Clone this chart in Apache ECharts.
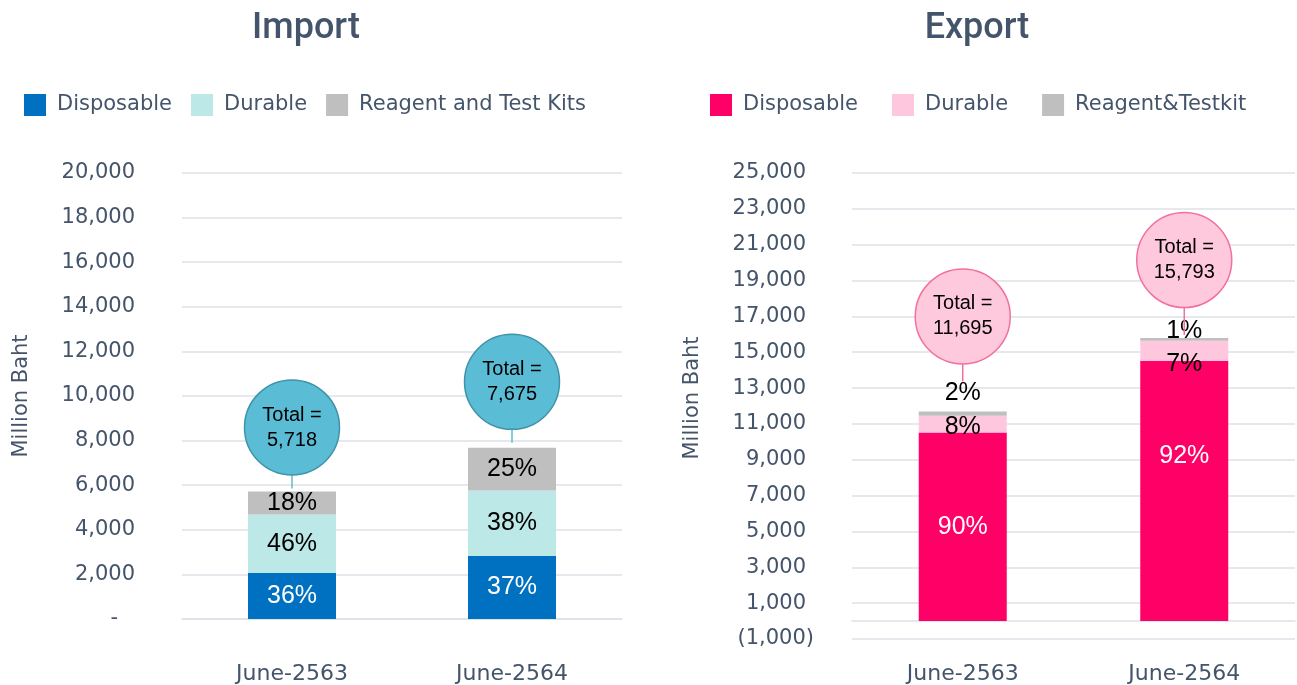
<!DOCTYPE html>
<html>
<head>
<meta charset="utf-8">
<script src="https://cdn.jsdelivr.net/npm/echarts@6/dist/echarts.min.js"></script>
<style>
  html, body { margin: 0; padding: 0; background: #fff; }
  #chart { width: 1297px; height: 685px; }
</style>
</head>
<body>
<div id="chart"></div>
<script>
const categories = ['June-2563', 'June-2564'];

// Import, million baht
const importDisposable = [2058, 2840];
const importDurable = [2630, 2917];
const importReagent = [1030, 1918];

// Export, million baht
const exportDisposable = [10526, 14530];
const exportDurable = [936, 1105];
const exportReagent = [233, 158];

const sum = (...arrs) => arrs[0].map((_, i) => arrs.reduce((s, a) => s + a[i], 0));
const importTotal = sum(importDisposable, importDurable, importReagent);
const exportTotal = sum(exportDisposable, exportDurable, exportReagent);

const fmt = n => Math.abs(n).toLocaleString('en-US');
const axisFont = 'DejaVu Sans';
const ink = '#44546a';
const gridColor = '#dde2e9';

const chart = echarts.init(document.getElementById('chart'));

function pctLabel(totals, color) {
  return {
    show: true,
    position: 'inside',
    color: color,
    fontFamily: 'Liberation Sans',
    fontSize: 25,
    formatter: p => Math.round(p.value / totals[p.dataIndex] * 100) + '%'
  };
}

function bars(name, values, idx, stack, color, totals, labelColor, tweaks) {
  return {
    name: name,
    type: 'bar',
    stack: stack,
    xAxisIndex: idx,
    yAxisIndex: idx,
    barWidth: 88,
    itemStyle: { color: color },
    label: pctLabel(totals, labelColor),
    data: values.map((v, i) => (tweaks && tweaks[i]) ? { value: v, label: tweaks[i] } : v)
  };
}

function bubbles(totals, idx, fill, stroke, line, lift, gap) {
  return {
    type: 'custom',
    xAxisIndex: idx,
    yAxisIndex: idx,
    silent: true,
    z: 10,
    data: totals.map((t, i) => [i, t]),
    renderItem: function (params, api) {
      const i = params.dataIndex;
      const top = api.coord([api.value(0), api.value(1)]);
      const r = 47.5;
      const cy = top[1] - lift[i];
      return {
        type: 'group',
        children: [
          { type: 'line', shape: { x1: top[0], y1: top[1] - gap[i], x2: top[0], y2: cy + r },
            style: { stroke: line, lineWidth: 1.5 } },
          { type: 'circle', shape: { cx: top[0], cy: cy, r: r },
            style: { fill: fill, stroke: stroke, lineWidth: 1.5 } },
          { type: 'text', style: {
              text: 'Total =\n' + fmt(api.value(1)),
              x: top[0], y: cy, align: 'center', verticalAlign: 'middle',
              fill: '#000', fontFamily: 'Liberation Sans', fontSize: 20, lineHeight: 25 } }
        ]
      };
    }
  };
}

function legend(names, left, gap) {
  return {
    data: names,
    left: left,
    top: 94,
    padding: 0,
    icon: 'rect',
    itemWidth: 22,
    itemHeight: 22,
    itemGap: gap,
    formatter: n => n.split(':')[1],
    textStyle: { fontFamily: axisFont, fontSize: 21, color: ink, padding: [0, 0, 0, 6] }
  };
}

function title(text, center) {
  return {
    text: text, left: center, top: 11, padding: 0, textAlign: 'center',
    textStyle: { fontFamily: 'Roboto', fontSize: 36, fontWeight: 500, color: ink }
  };
}

const option = {
  animation: false,
  backgroundColor: '#fff',
  title: [title('Import', 306), title('Export', 977)],
  legend: [
    legend(['imp:Disposable', 'imp:Durable', 'imp:Reagent and Test Kits'], 24, 19),
    legend(['exp:Disposable', 'exp:Durable', 'exp:Reagent&Testkit'], 710, 34)
  ],
  grid: [
    { left: 182, right: 675, top: 173, bottom: 66, outerBoundsMode: 'none' },
    { left: 852, right: 2, top: 173, bottom: 46, outerBoundsMode: 'none' }
  ],
  xAxis: [44, 24].map((m, i) => ({
    type: 'category',
    gridIndex: i,
    data: categories,
    axisTick: { show: false },
    axisLine: { lineStyle: { color: gridColor, width: 1.5 } },
    axisLabel: { margin: m, fontFamily: axisFont, fontSize: 22, color: ink }
  })),
  yAxis: [
    {
      type: 'value', gridIndex: 0, min: 0, max: 20000, interval: 2000,
      name: 'Million Baht', nameLocation: 'middle', nameRotate: 90, nameGap: 150,
      nameTextStyle: { fontFamily: axisFont, fontSize: 21, color: ink },
      axisLine: { show: false }, axisTick: { show: false },
      splitLine: { lineStyle: { color: gridColor, width: 1.5 } },
      axisLabel: {
        margin: 47, fontFamily: axisFont, fontSize: 21, color: ink,
        formatter: v => v === 0 ? '{z|-}' : fmt(v),
        rich: { z: { fontFamily: axisFont, fontSize: 21, color: ink, padding: [0, 17, 0, 0] } }
      }
    },
    {
      type: 'value', gridIndex: 1, min: -1000, max: 25000, interval: 2000,
      name: 'Million Baht', nameLocation: 'middle', nameRotate: 90, nameGap: 149,
      nameTextStyle: { fontFamily: axisFont, fontSize: 21, color: ink, padding: [0, 0, 0, 16] },
      axisLine: { show: false }, axisTick: { show: false },
      splitLine: { lineStyle: { color: gridColor, width: 1.5 } },
      axisLabel: {
        margin: 38, fontFamily: axisFont, fontSize: 21, color: ink,
        formatter: v => v < 0 ? '(' + fmt(v) + ')' : '{p|' + fmt(v) + '}',
        rich: { p: { fontFamily: axisFont, fontSize: 21, color: ink, padding: [0, 8, 0, 0] } }
      }
    }
  ],
  series: [
    bars('imp:Disposable', importDisposable, 0, 'imp', '#0070c0', importTotal, '#fff'),
    bars('imp:Durable', importDurable, 0, 'imp', '#bce8e7', importTotal, '#000'),
    bars('imp:Reagent and Test Kits', importReagent, 0, 'imp', '#bfbfbf', importTotal, '#000'),
    bars('exp:Disposable', exportDisposable, 1, 'exp', '#ff0066', exportTotal, '#fff',
      [null, { offset: [0, -35] }]),
    bars('exp:Durable', exportDurable, 1, 'exp', '#ffc7dd', exportTotal, '#000',
      [{ offset: [0, 3] }, { offset: [0, 13] }]),
    bars('exp:Reagent&Testkit', exportReagent, 1, 'exp', '#bfbfbf', exportTotal, '#000',
      [{ position: 'top', distance: 6 }, { position: 'top', distance: -6 }]),
    bubbles(importTotal, 0, '#5bbcd6', '#3f93a9', '#5bbcd6', [64, 66], [3, 5]),
    bubbles(exportTotal, 1, '#ffc9dd', '#f2719c', '#f2719c', [95, 78], [30, 3])
  ]
};

chart.setOption(option);
</script>
</body>
</html>
